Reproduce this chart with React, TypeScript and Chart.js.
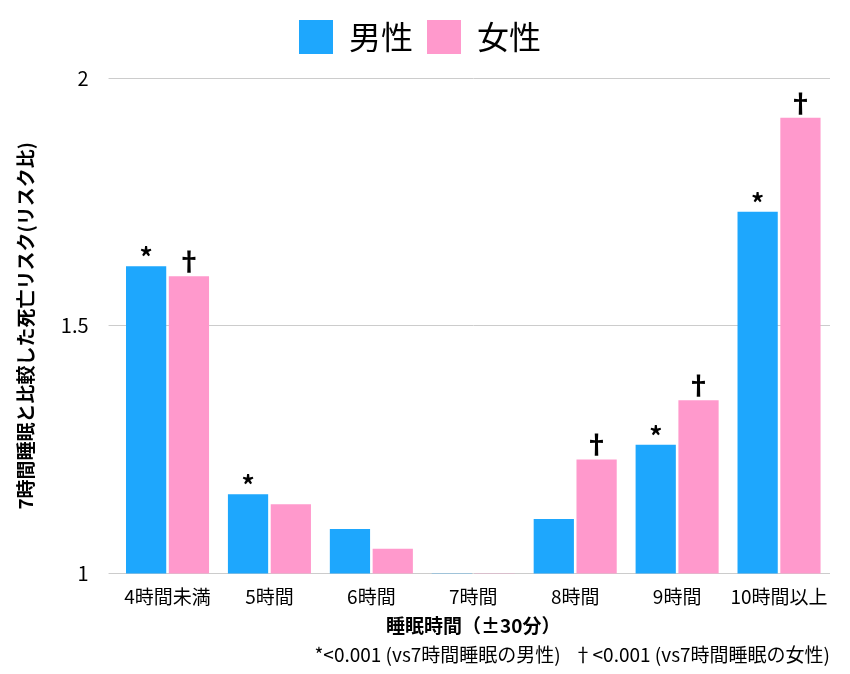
import React, { useEffect, useRef } from "react";
import { Chart, registerables } from "chart.js";
Chart.register(...registerables);

const categories = ["4時間未満", "5時間", "6時間", "7時間", "8時間", "9時間", "10時間以上"];
const male = [1.62, 1.16, 1.09, 1.0, 1.11, 1.26, 1.73];
const female = [1.6, 1.14, 1.05, 1.0, 1.23, 1.35, 1.92];
const maleMarks = ["*", "*", "", "", "", "*", "*"];
const femaleMarks = ["†", "", "", "", "†", "†", "†"];
const yTickLabels: Record<string, string> = { "1": "1", "1.5": "1.5", "2": "2" };
const FONT = "'Noto Sans CJK JP', 'Noto Sans', sans-serif";

const markPlugin = {
  id: "marks",
  afterDatasetsDraw(chart: any) {
    const ctx = chart.ctx;
    ctx.save();
    ctx.fillStyle = "#000";
    ctx.textAlign = "center";
    ctx.textBaseline = "bottom";
    ctx.font = `bold 26px ${FONT}`;
    [maleMarks, femaleMarks].forEach((marks, di) => {
      chart.getDatasetMeta(di).data.forEach((bar: any, i: number) => {
        if (marks[i]) ctx.fillText(marks[i], bar.x, bar.y - (marks[i] === "*" ? -4 : 2));
      });
    });
    ctx.restore();
  },
};

export default function App() {
  const ref = useRef<HTMLCanvasElement>(null);
  useEffect(() => {
    document.body.style.margin = "0";
    const chart = new Chart(ref.current!, {
      type: "bar",
      data: {
        labels: categories,
        datasets: [
          { label: "男性", data: male, backgroundColor: "#1ea7fd", categoryPercentage: 0.84, barPercentage: 0.94 },
          { label: "女性", data: female, backgroundColor: "#ff99cc", categoryPercentage: 0.84, barPercentage: 0.94 },
        ],
      },
      options: {
        animation: false,
        responsive: true,
        maintainAspectRatio: false,
        layout: { padding: { left: 10, right: 20, top: 6, bottom: 8 } },
        plugins: {
          legend: {
            labels: { font: { size: 32, family: FONT }, color: "#000", boxWidth: 34, boxHeight: 34, padding: 14 },
            onClick: () => {},
          },
          tooltip: { enabled: false },
          subtitle: {
            display: true,
            position: "bottom",
            align: "end",
            text: "*<0.001 (vs7時間睡眠の男性)   †<0.001 (vs7時間睡眠の女性)",
            color: "#000",
            font: { size: 19, family: FONT },
            padding: { top: 4, bottom: 0 },
          },
        },
        scales: {
          x: {
            grid: { display: false },
            border: { display: false },
            ticks: { color: "#000", font: { size: 19, family: FONT }, maxRotation: 0, minRotation: 0, autoSkip: false, padding: 4 },
            title: { display: true, text: "睡眠時間（±30分）", color: "#000", font: { size: 19, weight: "bold", family: FONT }, padding: 2 },
          },
          y: {
            min: 1,
            max: 2,
            border: { display: false },
            grid: { color: "#cccccc" },
            ticks: {
              stepSize: 0.5,
              color: "#000",
              font: { size: 20, family: FONT },
              padding: 20,
              callback: (v: any) => yTickLabels[String(v)] ?? "",
            },
            title: { display: true, text: "7時間睡眠と比較した死亡リスク(リスク比)", color: "#000", font: { size: 19, weight: "bold", family: FONT } },
          },
        },
      },
      plugins: [
        markPlugin,
        {
          id: "legendGap",
          beforeInit(chart: any) {
            const orig = chart.legend.fit;
            chart.legend.fit = function () {
              orig.bind(chart.legend)();
              this.height += 14;
            };
          },
        },
      ],
    });
    return () => chart.destroy();
  }, []);
  return (
    <div style={{ width: 850, height: 674 }}>
      <canvas ref={ref} />
    </div>
  );
}
